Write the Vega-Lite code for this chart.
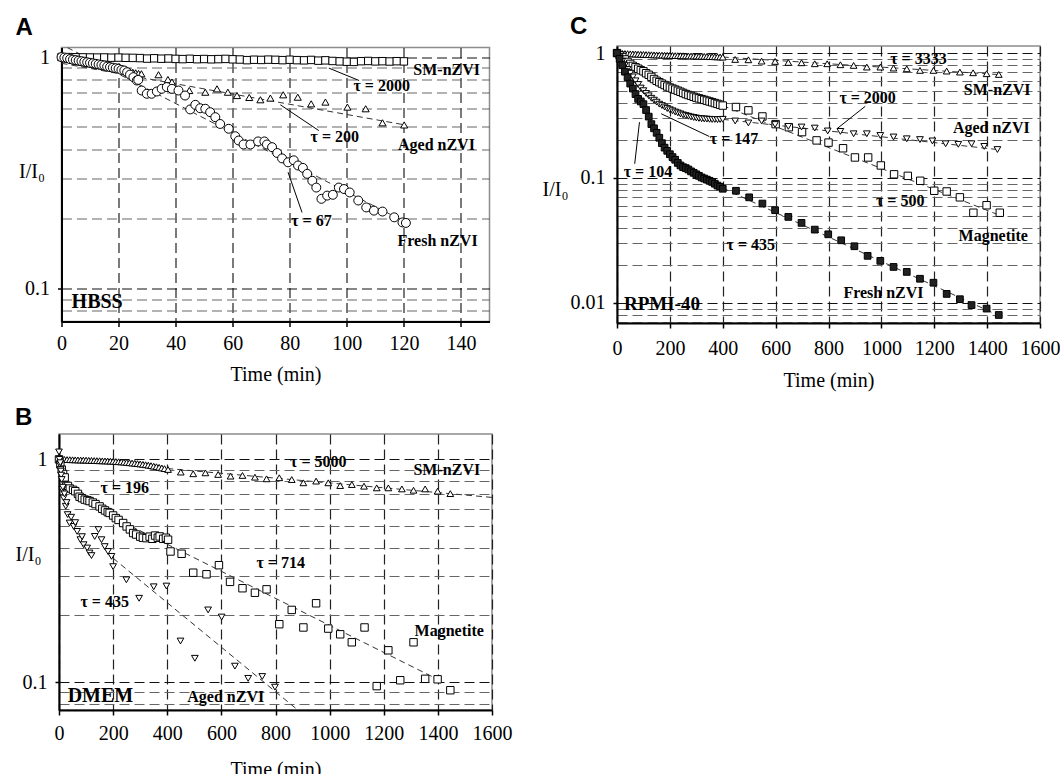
{
"$schema":"https://vega.github.io/schema/vega-lite/v6.json",
"padding":{"left":14,"top":14,"right":0,"bottom":0},
"autosize":{"type":"pad"},
"background":"#ffffff",
"bounds":"flush",
"columns":2,
"spacing":{"row":111,"column":125},
"center":true,
"datasets":{
"A_SM":[{"t":0,"v":1},{"t":2.5,"v":1},{"t":5,"v":0.998},{"t":7.5,"v":0.997},{"t":10,"v":0.996},{"t":12.5,"v":0.995},{"t":15,"v":0.996},{"t":17.5,"v":0.994},{"t":20,"v":0.995},{"t":22.5,"v":0.993},{"t":25,"v":0.992},{"t":27.5,"v":0.99},{"t":30,"v":0.985},{"t":32.5,"v":0.988},{"t":35,"v":0.984},{"t":37.5,"v":0.986},{"t":40,"v":0.982},{"t":42.5,"v":0.98},{"t":45,"v":0.983},{"t":47.5,"v":0.979},{"t":50,"v":0.981},{"t":52.5,"v":0.978},{"t":55,"v":0.98},{"t":57.5,"v":0.982},{"t":60,"v":0.978},{"t":62.5,"v":0.976},{"t":65,"v":0.97},{"t":67.5,"v":0.974},{"t":70,"v":0.972},{"t":72.5,"v":0.975},{"t":75,"v":0.973},{"t":77.5,"v":0.97},{"t":80,"v":0.974},{"t":82.5,"v":0.97},{"t":85,"v":0.968},{"t":87.5,"v":0.972},{"t":90,"v":0.965},{"t":92.5,"v":0.968},{"t":95,"v":0.962},{"t":97.5,"v":0.958},{"t":100,"v":0.955},{"t":102.5,"v":0.953},{"t":105,"v":0.96},{"t":107.5,"v":0.962},{"t":110,"v":0.958},{"t":112.5,"v":0.96},{"t":115,"v":0.957},{"t":117.5,"v":0.96},{"t":120,"v":0.958}],
"A_Aged":[{"t":0,"v":1},{"t":1,"v":0.99},{"t":2,"v":0.98},{"t":3,"v":0.975},{"t":4,"v":0.97},{"t":5,"v":0.96},{"t":6,"v":0.955},{"t":7,"v":0.95},{"t":8,"v":0.945},{"t":9,"v":0.94},{"t":10,"v":0.935},{"t":11,"v":0.93},{"t":12,"v":0.925},{"t":13,"v":0.92},{"t":14,"v":0.915},{"t":15,"v":0.91},{"t":16,"v":0.905},{"t":17,"v":0.9},{"t":18,"v":0.895},{"t":19,"v":0.89},{"t":20,"v":0.885},{"t":21,"v":0.88},{"t":22,"v":0.875},{"t":23,"v":0.87},{"t":24,"v":0.865},{"t":25,"v":0.86},{"t":26,"v":0.855},{"t":27,"v":0.85},{"t":28,"v":0.847},{"t":34,"v":0.839},{"t":37.3,"v":0.8},{"t":38.7,"v":0.78},{"t":44.8,"v":0.717},{"t":50.4,"v":0.705},{"t":54.5,"v":0.729},{"t":58.3,"v":0.705},{"t":61.5,"v":0.682},{"t":65.8,"v":0.669},{"t":69.7,"v":0.654},{"t":73.2,"v":0.665},{"t":77.7,"v":0.687},{"t":82.8,"v":0.671},{"t":87.5,"v":0.628},{"t":92.5,"v":0.639},{"t":100.2,"v":0.608},{"t":106.6,"v":0.598},{"t":112.5,"v":0.52},{"t":120.1,"v":0.509}],
"A_Fresh":[{"t":0,"v":1},{"t":1,"v":0.995},{"t":2,"v":0.99},{"t":3,"v":0.98},{"t":4,"v":0.975},{"t":5,"v":0.97},{"t":6,"v":0.965},{"t":7,"v":0.96},{"t":8,"v":0.955},{"t":9,"v":0.95},{"t":10,"v":0.945},{"t":11,"v":0.94},{"t":12,"v":0.935},{"t":13,"v":0.93},{"t":14,"v":0.925},{"t":15,"v":0.92},{"t":16,"v":0.91},{"t":17,"v":0.905},{"t":18,"v":0.9},{"t":19,"v":0.895},{"t":20,"v":0.89},{"t":21,"v":0.88},{"t":22,"v":0.875},{"t":23,"v":0.86},{"t":24,"v":0.84},{"t":25.2,"v":0.819},{"t":26.4,"v":0.792},{"t":26.9,"v":0.797},{"t":28.1,"v":0.717},{"t":29.9,"v":0.694},{"t":31.6,"v":0.694},{"t":33.4,"v":0.71},{"t":35.1,"v":0.729},{"t":36.9,"v":0.742},{"t":38.7,"v":0.729},{"t":41,"v":0.717},{"t":43.3,"v":0.682},{"t":45.1,"v":0.594},{"t":46.9,"v":0.622},{"t":48.6,"v":0.601},{"t":50.4,"v":0.598},{"t":52.1,"v":0.578},{"t":53.9,"v":0.55},{"t":55.6,"v":0.514},{"t":58.6,"v":0.49},{"t":60.9,"v":0.455},{"t":62.1,"v":0.436},{"t":63.8,"v":0.419},{"t":66.2,"v":0.419},{"t":68.9,"v":0.432},{"t":71.1,"v":0.432},{"t":72,"v":0.419},{"t":73.8,"v":0.408},{"t":75.6,"v":0.385},{"t":77.3,"v":0.365},{"t":79.4,"v":0.351},{"t":81.4,"v":0.358},{"t":82.9,"v":0.34},{"t":84.6,"v":0.332},{"t":86.1,"v":0.313},{"t":87.9,"v":0.292},{"t":89.3,"v":0.273},{"t":91.1,"v":0.244},{"t":93.1,"v":0.252},{"t":95.1,"v":0.254},{"t":97.2,"v":0.273},{"t":99,"v":0.269},{"t":101,"v":0.26},{"t":104,"v":0.24},{"t":106.8,"v":0.224},{"t":109.5,"v":0.217},{"t":112.5,"v":0.215},{"t":116.6,"v":0.203},{"t":119.5,"v":0.193},{"t":120.7,"v":0.192}],
"A_fit":[{"s":"SM","t":0,"v":0.995},{"s":"SM","t":120,"v":0.935},{"s":"Aged","t":0,"v":0.94},{"s":"Aged","t":120,"v":0.51},{"s":"Fresh","t":2,"v":1.1},{"s":"Fresh","t":120,"v":0.195}],
"A_arrow":[{"t":104.3,"v":0.792,"t2":93.7,"v2":0.896},{"t":90.2,"v":0.481,"t2":76.7,"v2":0.622},{"t":84.3,"v":0.213,"t2":79.4,"v2":0.318}],
"A_text":[{"label":"SM-nZVI","t":135,"v":0.881},{"label":"τ = 2000","t":112.2,"v":0.749},{"label":"τ = 200","t":95.8,"v":0.453},{"label":"Aged nZVI","t":131.4,"v":0.417},{"label":"τ = 67","t":87.6,"v":0.196},{"label":"Fresh nZVI","t":131.8,"v":0.161}],
"A_name":[{"label":"HBSS","t":12.5,"v":0.087}],
"B_SM":[{"t":0,"v":1},{"t":10,"v":1},{"t":20,"v":0.999},{"t":30,"v":0.998},{"t":40,"v":0.997},{"t":50,"v":0.996},{"t":60,"v":0.995},{"t":70,"v":0.994},{"t":80,"v":0.993},{"t":90,"v":0.993},{"t":100,"v":0.992},{"t":110,"v":0.99},{"t":120,"v":0.989},{"t":130,"v":0.988},{"t":140,"v":0.987},{"t":150,"v":0.986},{"t":160,"v":0.985},{"t":170,"v":0.984},{"t":180,"v":0.983},{"t":190,"v":0.982},{"t":200,"v":0.98},{"t":210,"v":0.978},{"t":220,"v":0.976},{"t":230,"v":0.974},{"t":240,"v":0.972},{"t":250,"v":0.969},{"t":260,"v":0.966},{"t":270,"v":0.963},{"t":280,"v":0.96},{"t":290,"v":0.957},{"t":300,"v":0.954},{"t":310,"v":0.95},{"t":320,"v":0.946},{"t":330,"v":0.942},{"t":340,"v":0.937},{"t":350,"v":0.932},{"t":360,"v":0.927},{"t":370,"v":0.921},{"t":380,"v":0.915},{"t":390,"v":0.909},{"t":403,"v":0.901},{"t":450,"v":0.877},{"t":496,"v":0.862},{"t":541,"v":0.87},{"t":588,"v":0.856},{"t":634,"v":0.841},{"t":678,"v":0.847},{"t":724,"v":0.832},{"t":767,"v":0.818},{"t":814,"v":0.827},{"t":860,"v":0.812},{"t":903,"v":0.785},{"t":950,"v":0.799},{"t":995,"v":0.785},{"t":1039,"v":0.763},{"t":1082,"v":0.771},{"t":1127,"v":0.758},{"t":1174,"v":0.745},{"t":1217,"v":0.745},{"t":1267,"v":0.737},{"t":1310,"v":0.727},{"t":1353,"v":0.737},{"t":1399,"v":0.72},{"t":1446,"v":0.702}],
"B_Mag":[{"t":0,"v":1},{"t":5,"v":0.95},{"t":10,"v":0.9},{"t":15,"v":0.86},{"t":21,"v":0.83},{"t":27,"v":0.76},{"t":33,"v":0.76},{"t":40,"v":0.74},{"t":52,"v":0.73},{"t":60,"v":0.72},{"t":70,"v":0.7},{"t":76,"v":0.68},{"t":85,"v":0.67},{"t":95,"v":0.66},{"t":105,"v":0.655},{"t":113,"v":0.65},{"t":125,"v":0.64},{"t":135,"v":0.63},{"t":150,"v":0.615},{"t":160,"v":0.6},{"t":170,"v":0.59},{"t":180,"v":0.58},{"t":187,"v":0.575},{"t":200,"v":0.56},{"t":210,"v":0.545},{"t":220,"v":0.535},{"t":237,"v":0.518},{"t":250,"v":0.5},{"t":262,"v":0.485},{"t":274,"v":0.467},{"t":285,"v":0.46},{"t":300,"v":0.45},{"t":310,"v":0.445},{"t":323,"v":0.443},{"t":335,"v":0.45},{"t":345,"v":0.44},{"t":355,"v":0.455},{"t":365,"v":0.445},{"t":372,"v":0.451},{"t":385,"v":0.44},{"t":395,"v":0.445},{"t":403,"v":0.436},{"t":412,"v":0.386},{"t":453,"v":0.377},{"t":496,"v":0.31},{"t":545,"v":0.305},{"t":591,"v":0.335},{"t":632,"v":0.282},{"t":678,"v":0.264},{"t":724,"v":0.252},{"t":767,"v":0.261},{"t":814,"v":0.182},{"t":860,"v":0.211},{"t":903,"v":0.176},{"t":950,"v":0.226},{"t":995,"v":0.174},{"t":1039,"v":0.164},{"t":1082,"v":0.151},{"t":1129,"v":0.176},{"t":1174,"v":0.096},{"t":1217,"v":0.139},{"t":1261,"v":0.102},{"t":1310,"v":0.151},{"t":1353,"v":0.1035},{"t":1399,"v":0.103},{"t":1446,"v":0.092}],
"B_Aged":[{"t":0,"v":1.08},{"t":2,"v":1},{"t":3,"v":0.95},{"t":5,"v":0.966},{"t":6,"v":0.9},{"t":7,"v":0.886},{"t":8,"v":0.85},{"t":10,"v":0.812},{"t":12,"v":0.732},{"t":14,"v":0.75},{"t":17,"v":0.671},{"t":20,"v":0.7},{"t":25,"v":0.616},{"t":28,"v":0.64},{"t":32,"v":0.565},{"t":39,"v":0.518},{"t":45,"v":0.55},{"t":54,"v":0.5},{"t":60,"v":0.52},{"t":67,"v":0.475},{"t":79,"v":0.436},{"t":85,"v":0.45},{"t":91,"v":0.414},{"t":104,"v":0.4},{"t":113,"v":0.38},{"t":120,"v":0.37},{"t":132,"v":0.451},{"t":146,"v":0.484},{"t":157,"v":0.436},{"t":169,"v":0.406},{"t":181,"v":0.386},{"t":194,"v":0.367},{"t":200,"v":0.33},{"t":249,"v":0.288},{"t":296,"v":0.238},{"t":350,"v":0.268},{"t":397,"v":0.27},{"t":449,"v":0.153},{"t":502,"v":0.128},{"t":551,"v":0.211},{"t":601,"v":0.196},{"t":650,"v":0.118},{"t":699,"v":0.104},{"t":751,"v":0.106},{"t":798,"v":0.095}],
"B_fit":[{"s":"SM","t":400,"v":0.91},{"s":"SM","t":1600,"v":0.675},{"s":"Mag","t":200,"v":0.55},{"s":"Mag","t":1420,"v":0.1},{"s":"Aged","t":200,"v":0.36},{"s":"Aged","t":890,"v":0.0737}],
"B_text":[{"label":"τ = 5000","t":958,"v":0.973},{"label":"SM-nZVI","t":1433,"v":0.895},{"label":"τ = 196","t":243,"v":0.745},{"label":"τ = 714","t":819,"v":0.344},{"label":"τ = 435","t":169,"v":0.229},{"label":"Magnetite","t":1442,"v":0.17},{"label":"Aged nZVI","t":616,"v":0.0854}],
"B_name":[{"label":"DMEM","t":153,"v":0.0863}],
"C_SM":[{"t":0,"v":1},{"t":10,"v":0.998},{"t":20,"v":0.995},{"t":30,"v":0.992},{"t":40,"v":0.99},{"t":50,"v":0.987},{"t":60,"v":0.985},{"t":70,"v":0.983},{"t":80,"v":0.98},{"t":90,"v":0.978},{"t":100,"v":0.976},{"t":110,"v":0.974},{"t":120,"v":0.972},{"t":130,"v":0.97},{"t":140,"v":0.968},{"t":150,"v":0.966},{"t":160,"v":0.965},{"t":170,"v":0.963},{"t":180,"v":0.961},{"t":190,"v":0.96},{"t":200,"v":0.958},{"t":210,"v":0.957},{"t":220,"v":0.955},{"t":230,"v":0.954},{"t":240,"v":0.953},{"t":250,"v":0.952},{"t":260,"v":0.95},{"t":270,"v":0.949},{"t":280,"v":0.948},{"t":290,"v":0.947},{"t":300,"v":0.946},{"t":310,"v":0.944},{"t":320,"v":0.943},{"t":330,"v":0.941},{"t":340,"v":0.94},{"t":350,"v":0.938},{"t":360,"v":0.937},{"t":370,"v":0.935},{"t":380,"v":0.933},{"t":390,"v":0.931},{"t":400,"v":0.929},{"t":447,"v":0.89},{"t":497,"v":0.884},{"t":547,"v":0.863},{"t":598,"v":0.858},{"t":648,"v":0.842},{"t":698,"v":0.837},{"t":748,"v":0.822},{"t":795,"v":0.822},{"t":845,"v":0.807},{"t":895,"v":0.797},{"t":945,"v":0.773},{"t":996,"v":0.773},{"t":1046,"v":0.759},{"t":1096,"v":0.749},{"t":1146,"v":0.727},{"t":1197,"v":0.727},{"t":1247,"v":0.718},{"t":1297,"v":0.705},{"t":1347,"v":0.696},{"t":1398,"v":0.684},{"t":1444,"v":0.675}],
"C_Aged":[{"t":0,"v":1},{"t":10,"v":0.93},{"t":20,"v":0.86},{"t":30,"v":0.8},{"t":40,"v":0.74},{"t":50,"v":0.69},{"t":60,"v":0.645},{"t":70,"v":0.6},{"t":80,"v":0.56},{"t":90,"v":0.525},{"t":100,"v":0.5},{"t":110,"v":0.475},{"t":120,"v":0.455},{"t":130,"v":0.435},{"t":140,"v":0.42},{"t":150,"v":0.405},{"t":160,"v":0.39},{"t":170,"v":0.38},{"t":180,"v":0.37},{"t":190,"v":0.36},{"t":200,"v":0.352},{"t":210,"v":0.345},{"t":220,"v":0.338},{"t":230,"v":0.332},{"t":240,"v":0.326},{"t":250,"v":0.32},{"t":260,"v":0.316},{"t":270,"v":0.312},{"t":280,"v":0.308},{"t":290,"v":0.305},{"t":300,"v":0.302},{"t":310,"v":0.3},{"t":320,"v":0.298},{"t":330,"v":0.297},{"t":340,"v":0.296},{"t":350,"v":0.295},{"t":360,"v":0.294},{"t":370,"v":0.294},{"t":380,"v":0.293},{"t":390,"v":0.294},{"t":400,"v":0.295},{"t":447,"v":0.286},{"t":497,"v":0.276},{"t":547,"v":0.286},{"t":598,"v":0.268},{"t":648,"v":0.259},{"t":698,"v":0.256},{"t":748,"v":0.251},{"t":797,"v":0.238},{"t":845,"v":0.236},{"t":895,"v":0.226},{"t":945,"v":0.226},{"t":996,"v":0.219},{"t":1046,"v":0.213},{"t":1096,"v":0.206},{"t":1146,"v":0.203},{"t":1193,"v":0.198},{"t":1243,"v":0.188},{"t":1291,"v":0.186},{"t":1341,"v":0.188},{"t":1389,"v":0.179},{"t":1439,"v":0.169}],
"C_Mag":[{"t":0,"v":1},{"t":10,"v":0.96},{"t":20,"v":0.93},{"t":30,"v":0.89},{"t":40,"v":0.85},{"t":50,"v":0.82},{"t":60,"v":0.79},{"t":70,"v":0.77},{"t":80,"v":0.75},{"t":90,"v":0.73},{"t":100,"v":0.715},{"t":110,"v":0.69},{"t":120,"v":0.67},{"t":130,"v":0.645},{"t":140,"v":0.62},{"t":150,"v":0.6},{"t":160,"v":0.585},{"t":170,"v":0.57},{"t":180,"v":0.555},{"t":190,"v":0.54},{"t":200,"v":0.53},{"t":210,"v":0.52},{"t":220,"v":0.51},{"t":230,"v":0.5},{"t":240,"v":0.49},{"t":250,"v":0.48},{"t":260,"v":0.47},{"t":270,"v":0.462},{"t":280,"v":0.455},{"t":290,"v":0.447},{"t":300,"v":0.44},{"t":310,"v":0.434},{"t":320,"v":0.428},{"t":330,"v":0.422},{"t":340,"v":0.416},{"t":350,"v":0.41},{"t":360,"v":0.404},{"t":370,"v":0.398},{"t":380,"v":0.392},{"t":390,"v":0.386},{"t":400,"v":0.38},{"t":450,"v":0.37},{"t":497,"v":0.348},{"t":550,"v":0.311},{"t":600,"v":0.27},{"t":650,"v":0.255},{"t":700,"v":0.233},{"t":755,"v":0.2},{"t":800,"v":0.192},{"t":855,"v":0.173},{"t":900,"v":0.146},{"t":950,"v":0.146},{"t":998,"v":0.126},{"t":1048,"v":0.107},{"t":1100,"v":0.104},{"t":1147,"v":0.095},{"t":1200,"v":0.079},{"t":1247,"v":0.078},{"t":1297,"v":0.07},{"t":1348,"v":0.0527},{"t":1398,"v":0.0605},{"t":1448,"v":0.0527}],
"C_Fresh":[{"t":0,"v":1},{"t":10,"v":0.9},{"t":20,"v":0.8},{"t":30,"v":0.71},{"t":40,"v":0.64},{"t":50,"v":0.57},{"t":60,"v":0.52},{"t":70,"v":0.47},{"t":80,"v":0.43},{"t":90,"v":0.41},{"t":100,"v":0.39},{"t":110,"v":0.35},{"t":120,"v":0.31},{"t":130,"v":0.27},{"t":140,"v":0.25},{"t":150,"v":0.23},{"t":160,"v":0.21},{"t":170,"v":0.19},{"t":180,"v":0.175},{"t":190,"v":0.165},{"t":200,"v":0.155},{"t":210,"v":0.147},{"t":220,"v":0.14},{"t":230,"v":0.132},{"t":240,"v":0.126},{"t":250,"v":0.122},{"t":260,"v":0.12},{"t":270,"v":0.117},{"t":280,"v":0.113},{"t":290,"v":0.11},{"t":300,"v":0.107},{"t":310,"v":0.104},{"t":320,"v":0.101},{"t":330,"v":0.099},{"t":340,"v":0.097},{"t":350,"v":0.095},{"t":360,"v":0.093},{"t":370,"v":0.09},{"t":380,"v":0.087},{"t":390,"v":0.085},{"t":400,"v":0.082},{"t":450,"v":0.079},{"t":500,"v":0.07},{"t":550,"v":0.0624},{"t":598,"v":0.0552},{"t":648,"v":0.0488},{"t":698,"v":0.0437},{"t":748,"v":0.0386},{"t":799,"v":0.0354},{"t":848,"v":0.0317},{"t":898,"v":0.0284},{"t":948,"v":0.0238},{"t":996,"v":0.0217},{"t":1046,"v":0.0194},{"t":1096,"v":0.0177},{"t":1146,"v":0.0156},{"t":1197,"v":0.0145},{"t":1247,"v":0.0118},{"t":1297,"v":0.0107},{"t":1341,"v":0.0096},{"t":1398,"v":0.009},{"t":1444,"v":0.008}],
"C_fit":[{"s":"SM","t":400,"v":0.93},{"s":"SM","t":1450,"v":0.672},{"s":"Aged","t":400,"v":0.295},{"s":"Aged","t":1450,"v":0.168},{"s":"Mag","t":400,"v":0.38},{"s":"Mag","t":1450,"v":0.05},{"s":"Fresh","t":400,"v":0.083},{"s":"Fresh","t":1450,"v":0.0078}],
"C_arrow":[{"t":939,"v":0.375,"t2":832,"v2":0.248},{"t":349,"v":0.215,"t2":167,"v2":0.327},{"t":67,"v":0.13,"t2":85,"v2":0.28}],
"C_text":[{"label":"τ = 3333","t":1140,"v":0.901},{"label":"SM-nZVI","t":1438,"v":0.509},{"label":"τ = 2000","t":948,"v":0.439},{"label":"Aged nZVI","t":1416,"v":0.253},{"label":"τ = 147","t":443,"v":0.206},{"label":"τ = 104","t":117,"v":0.112},{"label":"τ = 500","t":1071,"v":0.066},{"label":"Magnetite","t":1423,"v":0.0341},{"label":"τ = 435","t":506,"v":0.0289},{"label":"Fresh nZVI","t":1008,"v":0.0121}],
"C_name":[{"label":"RPMI-40","t":170,"v":0.00977}]
},
"concat":[
{"width":428,"height":274,
"title":{"text":"A","anchor":"start","frame":"group","dx":-46,"offset":7,"font":"Liberation Sans","fontSize":24,"fontWeight":"bold","color":"#000"},
"encoding":{
"x":{"field":"t","type":"quantitative","scale":{"domain":[0,150],"nice":false,"zero":false},"axis":{"values":[0,20,40,60,80,100,120,140],"format":"d","title":"Time (min)","labelPadding":7,"titlePadding":11,"tickSize":5}},
"y":{"field":"v","type":"quantitative","scale":{"type":"log","domain":[0.072,1.1],"nice":false},"axis":{"values":[1,0.9,0.8,0.7,0.6,0.5,0.4,0.3,0.2,0.1,0.09,0.08],"labelExpr":"datum.value === 1 ? '1' : datum.value === 0.1 ? '0.1' : datum.value === 0.01 ? '0.01' : ''","tickSize":4,"tickOpacity":{"condition":{"test":"datum.value === 1 || datum.value === 0.1 || datum.value === 0.01","value":1},"value":0},"gridColor":{"condition":{"test":"datum.value === 1 || datum.value === 0.1 || datum.value === 0.01","value":"#111"},"value":"#666"},"labelPadding":8,"title":"I/I₀","titleAngle":0,"titleX":-30,"titleY":124,"titleAlign":"center","titleBaseline":"middle"}}
},
"layer":[
{"data":{"name":"A_fit"},"mark":{"type":"line","strokeDash":[6,4],"strokeWidth":1,"color":"#333","clip":true},"encoding":{"detail":{"field":"s"}}},
{"data":{"name":"A_SM"},"mark":{"type":"point","shape":"square","size":55,"filled":true,"fill":"#fff","stroke":"#000","strokeWidth":1,"opacity":1}},
{"data":{"name":"A_Aged"},"mark":{"type":"point","shape":"triangle-up","size":50,"filled":true,"fill":"#fff","stroke":"#000","strokeWidth":1,"opacity":1}},
{"data":{"name":"A_Fresh"},"mark":{"type":"point","shape":"circle","size":80,"filled":true,"fill":"#fff","stroke":"#000","strokeWidth":1,"opacity":1}},
{"data":{"name":"A_arrow"},"mark":{"type":"rule","color":"#000","strokeWidth":1},"encoding":{"x2":{"field":"t2"},"y2":{"field":"v2"}}},
{"data":{"name":"A_text"},"mark":{"type":"text","font":"Liberation Serif","fontWeight":"bold","fontSize":16,"align":"center","baseline":"middle","color":"#000"},"encoding":{"text":{"field":"label"}}},
{"data":{"name":"A_name"},"mark":{"type":"text","font":"Liberation Serif","fontWeight":"bold","fontSize":20,"align":"center","baseline":"middle","color":"#000"},"encoding":{"text":{"field":"label"}}}
]},
{"width":423,"height":277,
"title":{"text":"C","anchor":"start","frame":"group","dx":-47,"offset":4,"font":"Liberation Sans","fontSize":24,"fontWeight":"bold","color":"#000"},
"encoding":{
"x":{"field":"t","type":"quantitative","scale":{"domain":[0,1600],"nice":false,"zero":false},"axis":{"values":[0,200,400,600,800,1000,1200,1400,1600],"format":"d","title":"Time (min)","labelPadding":10,"titlePadding":12,"tickSize":5}},
"y":{"field":"v","type":"quantitative","scale":{"type":"log","domain":[0.0069,1.14],"nice":false},"axis":{"values":[1,0.9,0.8,0.7,0.6,0.5,0.4,0.3,0.2,0.1,0.09,0.08,0.07,0.06,0.05,0.04,0.03,0.02,0.01,0.009,0.008,0.007],"labelExpr":"datum.value === 1 ? '1' : datum.value === 0.1 ? '0.1' : datum.value === 0.01 ? '0.01' : ''","tickSize":4,"tickOpacity":{"condition":{"test":"datum.value === 1 || datum.value === 0.1 || datum.value === 0.01","value":1},"value":0},"gridColor":{"condition":{"test":"datum.value === 1 || datum.value === 0.1 || datum.value === 0.01","value":"#111"},"value":"#666"},"labelPadding":8,"title":"I/I₀","titleAngle":0,"titleX":-62,"titleY":143,"titleAlign":"center","titleBaseline":"middle"}}
},
"layer":[
{"data":{"name":"C_fit"},"mark":{"type":"line","strokeDash":[6,4],"strokeWidth":1,"color":"#333","clip":true},"encoding":{"detail":{"field":"s"}}},
{"data":{"name":"C_SM"},"mark":{"type":"point","shape":"triangle-up","size":45,"filled":true,"fill":"#fff","stroke":"#000","strokeWidth":1,"opacity":1}},
{"data":{"name":"C_Mag"},"mark":{"type":"point","shape":"square","size":55,"filled":true,"fill":"#fff","stroke":"#000","strokeWidth":1,"opacity":1}},
{"data":{"name":"C_Aged"},"mark":{"type":"point","shape":"triangle-down","size":45,"filled":true,"fill":"#fff","stroke":"#000","strokeWidth":1,"opacity":1}},
{"data":{"name":"C_Fresh"},"mark":{"type":"point","shape":"square","size":45,"filled":true,"fill":"#222","stroke":"#000","strokeWidth":1,"opacity":1}},
{"data":{"name":"C_arrow"},"mark":{"type":"rule","color":"#000","strokeWidth":1},"encoding":{"x2":{"field":"t2"},"y2":{"field":"v2"}}},
{"data":{"name":"C_text"},"mark":{"type":"text","font":"Liberation Serif","fontWeight":"bold","fontSize":16,"align":"center","baseline":"middle","color":"#000"},"encoding":{"text":{"field":"label"}}},
{"data":{"name":"C_name"},"mark":{"type":"text","font":"Liberation Serif","fontWeight":"bold","fontSize":19,"align":"center","baseline":"middle","color":"#000"},"encoding":{"text":{"field":"label"}}}
]},
{"width":433,"height":276,
"title":{"text":"B","anchor":"start","frame":"group","dx":-44,"offset":4,"font":"Liberation Sans","fontSize":24,"fontWeight":"bold","color":"#000"},
"encoding":{
"x":{"field":"t","type":"quantitative","scale":{"domain":[0,1600],"nice":false,"zero":false},"axis":{"values":[0,200,400,600,800,1000,1200,1400,1600],"format":"d","title":"Time (min)","labelPadding":8,"titlePadding":16,"tickSize":5}},
"y":{"field":"v","type":"quantitative","scale":{"type":"log","domain":[0.075,1.3],"nice":false},"axis":{"values":[1,0.9,0.8,0.7,0.6,0.5,0.4,0.3,0.2,0.1,0.09,0.08],"labelExpr":"datum.value === 1 ? '1' : datum.value === 0.1 ? '0.1' : datum.value === 0.01 ? '0.01' : ''","tickSize":4,"tickOpacity":{"condition":{"test":"datum.value === 1 || datum.value === 0.1 || datum.value === 0.01","value":1},"value":0},"gridColor":{"condition":{"test":"datum.value === 1 || datum.value === 0.1 || datum.value === 0.01","value":"#111"},"value":"#666"},"labelPadding":8,"title":"I/I₀","titleAngle":0,"titleX":-31,"titleY":120,"titleAlign":"center","titleBaseline":"middle"}}
},
"layer":[
{"data":{"name":"B_fit"},"mark":{"type":"line","strokeDash":[6,4],"strokeWidth":1,"color":"#333","clip":true},"encoding":{"detail":{"field":"s"}}},
{"data":{"name":"B_SM"},"mark":{"type":"point","shape":"triangle-up","size":45,"filled":true,"fill":"#fff","stroke":"#000","strokeWidth":1,"opacity":1}},
{"data":{"name":"B_Mag"},"mark":{"type":"point","shape":"square","size":55,"filled":true,"fill":"#fff","stroke":"#000","strokeWidth":1,"opacity":1}},
{"data":{"name":"B_Aged"},"mark":{"type":"point","shape":"triangle-down","size":45,"filled":true,"fill":"#fff","stroke":"#000","strokeWidth":1,"opacity":1}},
{"data":{"name":"B_text"},"mark":{"type":"text","font":"Liberation Serif","fontWeight":"bold","fontSize":16,"align":"center","baseline":"middle","color":"#000"},"encoding":{"text":{"field":"label"}}},
{"data":{"name":"B_name"},"mark":{"type":"text","font":"Liberation Serif","fontWeight":"bold","fontSize":20,"align":"center","baseline":"middle","color":"#000"},"encoding":{"text":{"field":"label"}}}
]}
],
"config":{
"view":{"stroke":"#8c8c8c","strokeWidth":1.5},
"axis":{"labelFont":"Liberation Serif","labelFontSize":20,"labelColor":"#000","titleFont":"Liberation Serif","titleFontSize":20,"titleFontWeight":"normal","titleColor":"#000","domainColor":"#000","domainWidth":2,"tickColor":"#000","tickWidth":1.5,"grid":true,"gridDash":[10,5],"gridColor":"#222","gridWidth":1.2,"labelFlush":false,"labelOverlap":false}
}
}
